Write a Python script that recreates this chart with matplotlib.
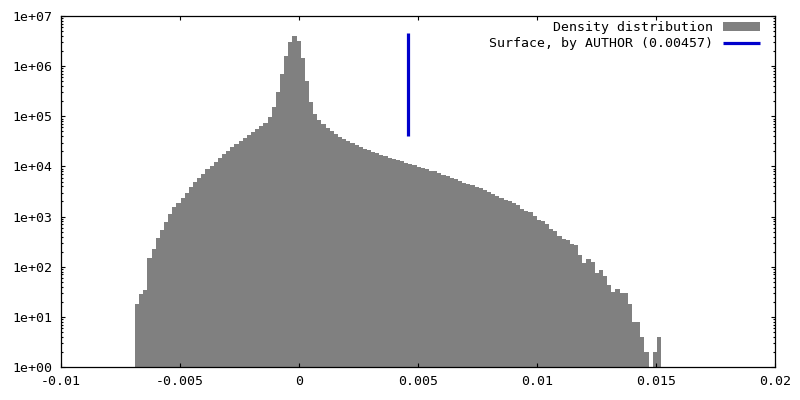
import matplotlib
matplotlib.use("Agg")
import matplotlib.pyplot as plt
from matplotlib.ticker import FixedLocator, LogLocator, NullFormatter, FixedFormatter

# histogram bins (left edge of first bin, bin width) and counts per bin
bin_start = -0.00689
bin_width = 0.000174
counts = [
    18, 29, 34, 149, 226, 374, 540, 780, 1125, 1553,
    1866, 2349, 2954, 3890, 4897, 5888, 7070, 8890, 10200, 12270,
    14730, 17700, 20300, 24400, 28000, 32200, 36900, 42400, 48600, 55800,
    64100, 73500, 96900, 153000, 305000, 698000, 1600000, 3030000, 3990000, 3170000,
    1450000, 506000, 193000, 111000, 84400, 70200, 58400, 50900, 44400, 38600,
    35200, 32100, 29300, 26800, 24400, 22300, 21300, 19400, 18500, 16900,
    16100, 14700, 14100, 13400, 12800, 11700, 11200, 10700, 9750, 9310,
    8890, 8110, 8110, 7400, 6750, 6440, 5880, 5610, 5130, 4680,
    4470, 4270, 3890, 3630, 3390, 3090, 2820, 2570, 2350, 2140,
    2050, 1870, 1700, 1420, 1290, 1230, 1030, 855, 817, 711,
    565, 515, 410, 357, 341, 284, 271, 171, 119, 143,
    124, 75, 86, 65, 43, 31, 36, 30, 30, 18,
    8, 8, 4, 2, 0, 2, 4,
]

# surface marker
surface_x = 0.00457
surface_y = [4.1e4, 4.6e6]

x_ticks = [-0.01, -0.005, 0, 0.005, 0.01, 0.015, 0.02]
x_labels = ["-0.01", "-0.005", "0", "0.005", "0.01", "0.015", "0.02"]
y_ticks = [1e0, 1e1, 1e2, 1e3, 1e4, 1e5, 1e6, 1e7]
y_labels = ["1e+00", "1e+01", "1e+02", "1e+03", "1e+04", "1e+05", "1e+06", "1e+07"]

plt.rcParams['font.family'] = ['DejaVu Sans Mono']
plt.rcParams['font.size'] = 9.5

fig = plt.figure(figsize=(8, 4), dpi=100)
ax = fig.add_axes([61 / 800, 33 / 400, 714 / 800, 351 / 400])

lefts = [bin_start + i * bin_width for i in range(len(counts))]
bars = ax.bar(lefts, counts, width=bin_width, align='edge', color='#808080',
              linewidth=0, label='Density distribution')
line, = ax.plot([surface_x, surface_x], surface_y, color='#0000cc', linewidth=2.3,
                solid_capstyle='butt', label='Surface, by AUTHOR (0.00457)')

ax.set_yscale('log')
ax.set_xlim(-0.01, 0.02)
ax.set_ylim(1, 1e7)

ax.xaxis.set_major_locator(FixedLocator(x_ticks))
ax.xaxis.set_major_formatter(FixedFormatter(x_labels))
ax.yaxis.set_major_locator(FixedLocator(y_ticks))
ax.yaxis.set_major_formatter(FixedFormatter(y_labels))
ax.yaxis.set_minor_locator(LogLocator(base=10, subs=range(2, 10), numticks=20))
ax.yaxis.set_minor_formatter(NullFormatter())

ax.tick_params(which='both', direction='in', top=True, right=True, color='black')
ax.tick_params(which='major', length=3, width=0.8, pad=6)
ax.tick_params(which='minor', length=1.6, width=0.8)
for s in ax.spines.values():
    s.set_linewidth(0.9)

ax.legend([bars, line], ['Density distribution', 'Surface, by AUTHOR (0.00457)'],
          loc='upper right', bbox_to_anchor=(760 / 800, 379 / 400),
          bbox_transform=fig.transFigure, frameon=False, markerfirst=False,
          handlelength=2.8, handletextpad=0.75, labelspacing=0.25,
          borderpad=0, borderaxespad=0, fontsize=9.5)

fig.savefig('out.png', dpi=100)
